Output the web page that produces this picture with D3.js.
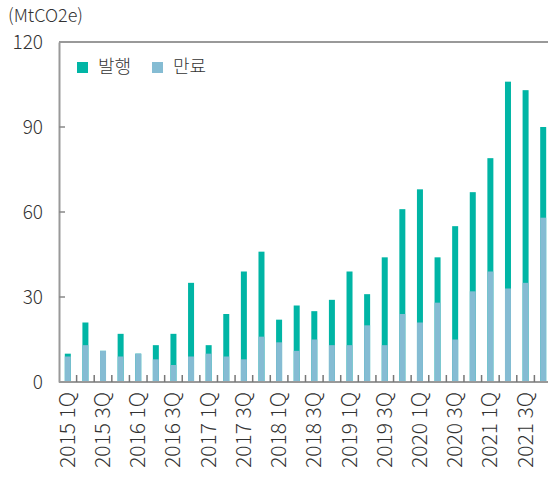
<!DOCTYPE html>
<html>
<head>
<meta charset="utf-8">
<script src="https://d3js.org/d3.v7.min.js"></script>
<style>
  body { margin: 0; background: #fff; }
  svg text { font-family: "Noto Sans CJK KR", "Noto Sans", sans-serif; font-weight: 300; fill: #333; }
</style>
</head>
<body>
<div id="chart"></div>
<script>
// 분기 (2015 1Q ~ 2021 4Q)
const quarters = [];
for (let y = 2015; y <= 2021; y++) for (let q = 1; q <= 4; q++) quarters.push(y + " " + q + "Q");

// 발행 (MtCO2e)
const issued = [10, 21, 11, 17, 10, 13, 17, 35, 13, 24, 39, 46, 22, 27, 25, 29,
                39, 31, 44, 61, 68, 44, 55, 67, 79, 106, 103, 90];
// 만료 (MtCO2e)
const expired = [9, 13, 11, 9, 10, 8, 6, 9, 10, 9, 8, 16, 14, 11, 15, 13,
                 13, 20, 13, 24, 21, 28, 15, 32, 39, 33, 35, 58];

const yTicks = [0, 30, 60, 90, 120];
const seriesNames = ["발행", "만료"];
const colors = ["#00b5a5", "#85bcd3"];

const W = 548, H = 480;
const margin = {top: 42, right: -4, bottom: 98, left: 59};
const w = W - margin.left - margin.right;
const h = H - margin.top - margin.bottom;

const svg = d3.select("#chart").append("svg")
    .attr("width", W).attr("height", H);

const g = svg.append("g")
    .attr("transform", "translate(" + margin.left + "," + margin.top + ")");

const x = d3.scaleBand().domain(quarters).range([0, w]).padding(0);
const y = d3.scaleLinear().domain([0, 120]).range([h, 0]);
const barW = 6;

// 발행 (뒤), 만료 (앞)
g.selectAll(".issued").data(quarters).enter().append("rect")
    .attr("x", d => x(d) + x.bandwidth() / 2 - barW / 2)
    .attr("width", barW)
    .attr("y", (d, i) => y(issued[i]))
    .attr("height", (d, i) => h - y(issued[i]))
    .attr("fill", colors[0]);

g.selectAll(".expired").data(quarters).enter().append("rect")
    .attr("x", d => x(d) + x.bandwidth() / 2 - barW / 2)
    .attr("width", barW)
    .attr("y", (d, i) => y(expired[i]))
    .attr("height", (d, i) => h - y(expired[i]))
    .attr("fill", colors[1]);

// frame top
g.append("line")
    .attr("x1", 0).attr("x2", w).attr("y1", 0).attr("y2", 0)
    .attr("stroke", "#999").attr("stroke-width", 2);

// y axis
const yAxis = d3.axisLeft(y).tickValues(yTicks).tickSize(0).tickPadding(16);
const ya = g.append("g").call(yAxis);
ya.select(".domain").attr("stroke", "#999").attr("stroke-width", 2);
ya.selectAll("text").attr("font-size", 19).attr("fill", "#333");
g.selectAll(".ytick").data(yTicks.slice(1, 4)).enter().append("line")
    .attr("x1", 0).attr("x2", 6)
    .attr("y1", d => y(d)).attr("y2", d => y(d))
    .attr("stroke", "#888").attr("stroke-width", 1.5);

// x axis
g.append("line")
    .attr("x1", 0).attr("x2", w).attr("y1", h).attr("y2", h)
    .attr("stroke", "#999").attr("stroke-width", 2);
g.selectAll(".xtick").data(quarters.slice(1)).enter().append("line")
    .attr("x1", d => x(d)).attr("x2", d => x(d))
    .attr("y1", h - 7).attr("y2", h)
    .attr("stroke", "#777").attr("stroke-width", 1.5);

g.selectAll(".xlabel").data(quarters.filter((d, i) => i % 2 === 0)).enter().append("text")
    .attr("transform", d => "translate(" + (x(d) + x.bandwidth() / 2 + 7) + "," + (h + 10) + ") rotate(-90)")
    .attr("text-anchor", "end")
    .attr("font-size", 21)
    .text(d => d);

// unit
svg.append("text")
    .attr("x", 8).attr("y", 22)
    .attr("font-size", 18)
    .text("(MtCO2e)");

// legend
const legend = g.append("g").attr("transform", "translate(18,20)");
seriesNames.forEach((name, i) => {
    const lg = legend.append("g").attr("transform", "translate(" + (i * 75) + ",0)");
    lg.append("rect").attr("width", 11).attr("height", 11).attr("fill", colors[i]);
    lg.append("text").attr("x", 21).attr("y", 11).attr("font-size", 18).text(name);
});
</script>
</body>
</html>
